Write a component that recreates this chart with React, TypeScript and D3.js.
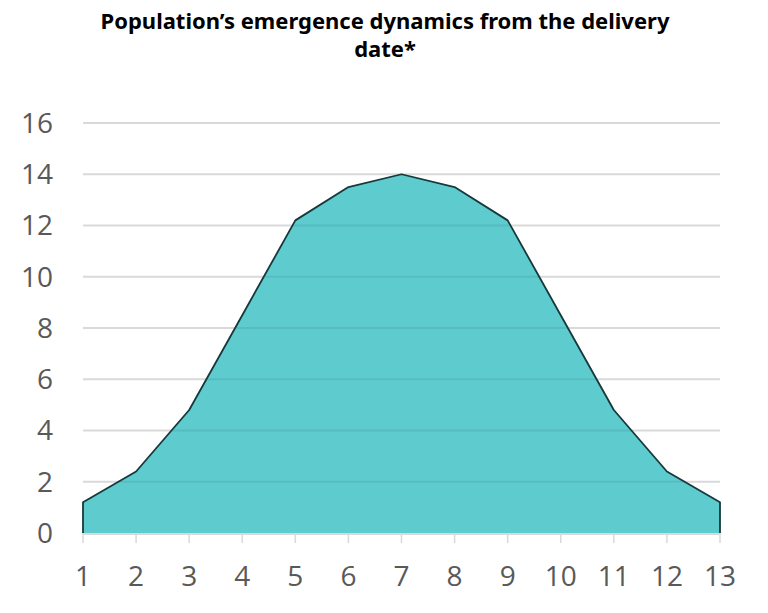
import * as d3 from "d3";
import { useMemo } from "react";

const WIDTH = 768;
const HEIGHT = 613;

const TITLE_LINES = ["Population’s emergence dynamics from the delivery", "date*"];

const days = [1, 2, 3, 4, 5, 6, 7, 8, 9, 10, 11, 12, 13];
const emergence = [1.2, 2.4, 4.8, 8.5, 12.2, 13.5, 14, 13.5, 12.2, 8.5, 4.8, 2.4, 1.2];
const yTicks = [0, 2, 4, 6, 8, 10, 12, 14, 16];

const FILL = "#5ecbcf";
const STROKE = "#17393b";
const GRID = "#d9d9d9";
const LABEL = "#595959";

const MARGIN = { top: 123, right: 48, bottom: 80, left: 83 };

export default function App() {
  const innerW = WIDTH - MARGIN.left - MARGIN.right;
  const innerH = HEIGHT - MARGIN.top - MARGIN.bottom;

  const x = useMemo(
    () => d3.scaleLinear().domain([1, 13]).range([0, innerW]),
    [innerW],
  );
  const y = useMemo(
    () => d3.scaleLinear().domain([0, 16]).range([innerH, 0]),
    [innerH],
  );

  const points = days.map((d, i) => [d, emergence[i]] as [number, number]);

  const areaPath = d3
    .area<[number, number]>()
    .x((d) => x(d[0]))
    .y0(y(0))
    .y1((d) => y(d[1]))(points);

  // outline: left edge, top curve, right edge (no baseline)
  const outline = d3
    .line<[number, number]>()
    .x((d) => x(d[0]))
    .y((d) => y(d[1]))([
    [days[0], 0],
    ...points,
    [days[days.length - 1], 0],
  ]);

  const gridTicks = yTicks.filter((t) => t > 0);

  return (
    <div style={{ position: "fixed", left: 0, top: 0 }}>
      <svg width={WIDTH} height={HEIGHT} style={{ display: "block", background: "#fff" }}>
        <defs>
          <clipPath id="area-clip">
            <path d={areaPath ?? ""} transform={`translate(${MARGIN.left}, ${MARGIN.top})`} />
          </clipPath>
        </defs>

        <g fontFamily="'Noto Sans', 'DejaVu Sans', sans-serif" fontWeight="bold" fontSize={22} fill="#000" textAnchor="middle">
          {TITLE_LINES.map((t, i) => (
            <text key={i} x={385} y={29 + i * 28}>
              {t}
            </text>
          ))}
        </g>

        <g transform={`translate(${MARGIN.left}, ${MARGIN.top})`}>
          {gridTicks.map((t) => (
            <line key={t} x1={0} x2={innerW} y1={y(t)} y2={y(t)} stroke={GRID} strokeWidth={2} />
          ))}

          <path d={areaPath ?? ""} fill={FILL} />
        </g>

        <g clipPath="url(#area-clip)">
          <g transform={`translate(${MARGIN.left}, ${MARGIN.top})`}>
            {gridTicks.map((t) => (
              <line key={t} x1={0} x2={innerW} y1={y(t)} y2={y(t)} stroke="#000" strokeOpacity={0.07} strokeWidth={2} />
            ))}
          </g>
        </g>

        <g transform={`translate(${MARGIN.left}, ${MARGIN.top})`}>
          <path d={outline ?? ""} fill="none" stroke={STROKE} strokeWidth={1.8} strokeLinejoin="round" />

          <line x1={0} x2={innerW} y1={innerH + 1} y2={innerH + 1} stroke={GRID} strokeWidth={2} />
          {days.map((d) => (
            <line key={d} x1={x(d)} x2={x(d)} y1={innerH} y2={innerH + 10} stroke={GRID} strokeWidth={1.5} />
          ))}

          <g fontFamily="'Open Sans', 'Liberation Sans', sans-serif" fontSize={28} fill={LABEL}>
            {yTicks.map((t) => (
              <text key={t} x={-30} y={y(t)} dy="0.35em" textAnchor="end">
                {t}
              </text>
            ))}
            {days.map((d) => (
              <text key={d} x={x(d)} y={innerH + 53} textAnchor="middle">
                {d}
              </text>
            ))}
          </g>
        </g>
      </svg>
    </div>
  );
}
